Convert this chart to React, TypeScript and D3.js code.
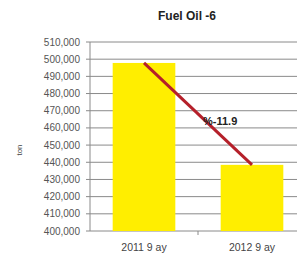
import React from "react";
import * as d3 from "d3";

const categories = ["2011 9 ay", "2012 9 ay"];
const values = [497800, 438500];
const yTicks = [400000, 410000, 420000, 430000, 440000, 450000, 460000, 470000, 480000, 490000, 500000, 510000];
const changeLabel = "%-11.9";

export default function App() {
  const width = 297;
  const height = 257;
  const margin = { left: 90, right: -9, top: 42, bottom: 26 };

  const x = d3.scaleBand().domain(categories).range([margin.left, width - margin.right]).paddingInner(0.42).paddingOuter(0.21);
  const y = d3.scaleLinear().domain([400000, 510000]).range([height - margin.bottom, margin.top]);
  const fmt = d3.format(",");
  const x0 = margin.left;
  const x1 = width - margin.right;

  const cx = (c: string) => x(c)! + x.bandwidth() / 2;
  const p1: [number, number] = [cx(categories[0]), y(values[0])];
  const p2: [number, number] = [cx(categories[1]), y(values[1])];
  const line = d3.line()([p1, p2]);
  const step = x.step();

  return (
    <svg width={width} height={height} style={{ position: "absolute", left: 0, top: 0, background: "#fff" }}>
      <text x={187} y={20} textAnchor="middle" fontFamily="Liberation Sans, Arial, sans-serif" fontWeight="bold" fontSize={12} fill="#222">Fuel Oil -6</text>
      {yTicks.map(t => (
        <g key={t}>
          <line x1={x0} x2={x1} y1={y(t)} y2={y(t)} stroke="#8a8a8a" strokeWidth={1} />
          <line x1={x0 - 4} x2={x0} y1={y(t)} y2={y(t)} stroke="#8a8a8a" strokeWidth={1} />
          <text x={80} y={y(t) + 3.5} textAnchor="end" fontFamily="Liberation Sans, Arial, sans-serif" fontSize={10} fill="#555">{fmt(t)}</text>
        </g>
      ))}
      <line x1={x0} x2={x0} y1={y(510000)} y2={y(400000)} stroke="#8a8a8a" strokeWidth={1} />
      <line x1={x0 + step} x2={x0 + step} y1={y(400000)} y2={y(400000) + 4} stroke="#8a8a8a" strokeWidth={1} />
      {categories.map((c, i) => (
        <g key={c}>
          <rect x={x(c)} y={y(values[i])} width={x.bandwidth()} height={y(400000) - y(values[i])} fill="#ffee00" />
          <text x={cx(c)} y={251} textAnchor="middle" fontFamily="Liberation Sans, Arial, sans-serif" fontSize={10.5} fill="#444">{c}</text>
        </g>
      ))}
      <path d={line!} stroke="#b5202a" strokeWidth={3} fill="none" />
      <text x={203} y={125} fontFamily="Liberation Sans, Arial, sans-serif" fontWeight="bold" fontSize={11} fill="#222">{changeLabel}</text>
      <text transform="translate(22,150) rotate(-90)" textAnchor="middle" fontFamily="Liberation Sans, Arial, sans-serif" fontSize={8} fill="#444">ton</text>
    </svg>
  );
}
